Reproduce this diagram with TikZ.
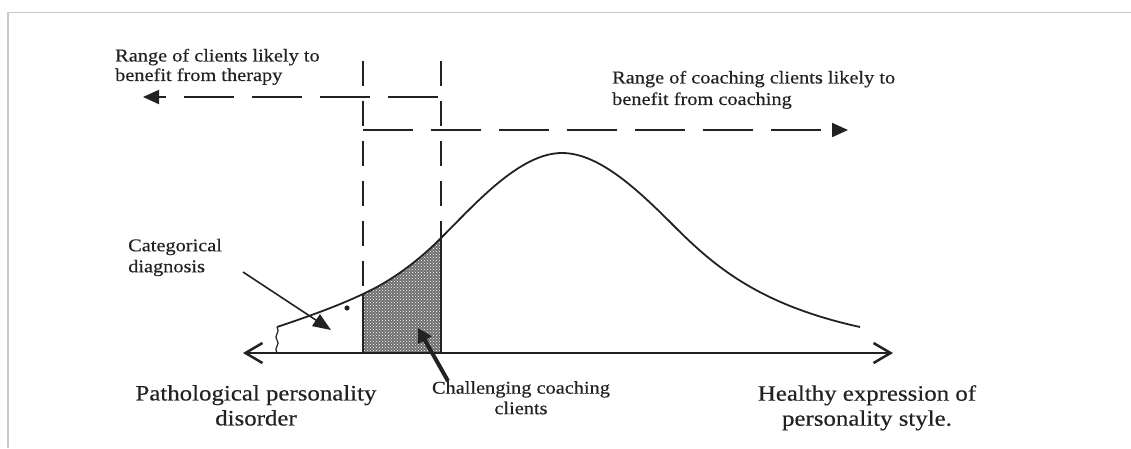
\documentclass[tikz,border=0pt]{standalone}
\usepackage{fontspec}
\setmainfont{Liberation Serif}[FakeStretch=1.13,FakeBold=0.4]
\usetikzlibrary{arrows.meta,patterns}

\definecolor{ink}{HTML}{222222}
\definecolor{framegray}{HTML}{C8C8C8}

\begin{document}
\begin{tikzpicture}[x=1pt,y=-1pt,
  small/.style={inner sep=0pt, text=ink, font=\fontsize{18}{19.5}\selectfont, align=left},
  large/.style={inner sep=0pt, text=ink, font=\fontsize{22}{25}\selectfont, align=center},
  frameline/.style={draw=framegray, line width=1.5pt},
  guide/.style={draw=ink, line width=2pt, dash pattern=on 25pt off 15pt},
  border/.style={draw=ink, line width=2.2pt},
  rangearrow/.style={draw=ink, line width=2pt, dash pattern=on 50pt off 18pt,
    -{Triangle[length=16pt,width=14pt]}},
  axisline/.style={draw=ink, line width=2.5pt,
    {Straight Barb[length=17pt,width=20pt]}-{Straight Barb[length=17pt,width=20pt]}},
  curveline/.style={draw=ink, line width=1.8pt},
  pointer/.style={draw=ink, line width=1.6pt, -{Triangle[length=18pt,width=14pt]}},
  heavypointer/.style={draw=ink, line width=4pt, -{Triangle[length=14pt,width=15pt]}}
]
\useasboundingbox (0,0) rectangle (1131,448);

% page frame
\draw[frameline] (1131,12.5) -- (8,12.5) -- (8,448);

% key points
\coordinate (axL) at (243,353);
\coordinate (axR) at (893,353);
\coordinate (lTop) at (363,61);
\coordinate (lCurve) at (363,294);
\coordinate (lFoot) at (363,353);
\coordinate (rTop) at (441,61);
\coordinate (rCurve) at (441,238);
\coordinate (rFoot) at (441,353);
\coordinate (tailStart) at (277,327);
\coordinate (tailFoot) at (277,353);
\coordinate (peak) at (562,153);
\coordinate (bend) at (675,227);
\coordinate (tailEnd) at (860,327);

% shaded band of challenging clients
\fill[ink!65] (lFoot) -- (lCurve) .. controls (389,282) and (415,264) .. (rCurve) -- (rFoot) -- cycle;
\fill[pattern=crosshatch dots, pattern color=white] (lFoot) -- (lCurve) .. controls (389,282) and (415,264) .. (rCurve) -- (rFoot) -- cycle;
\draw[border] (lCurve) -- (lFoot);
\draw[border] (rCurve) -- (rFoot);

% dashed guides above the curve
\draw[guide] (lTop) -- (lCurve);
\draw[guide] (rTop) -- (rCurve);

% range arrows
\coordinate (therapyTip) at (143,97);
\coordinate (therapyStart) at (438,97);
\coordinate (coachStart) at (363,130);
\coordinate (coachTip) at (848,130);
\draw[rangearrow] (therapyStart) -- (therapyTip);
\draw[rangearrow] (coachStart) -- (coachTip);

% distribution curve
\draw[curveline] (tailStart) .. controls (310,316) and (340,305) .. (lCurve)
  .. controls (389,282) and (415,264) .. (rCurve)
  .. controls (476,203) and (520,153) .. (peak)
  .. controls (600,153) and (640,192) .. (bend)
  .. controls (715,267) and (760,305) .. (tailEnd);

% break mark at the start of the curve
\draw[ink, line width=1.2pt] (tailStart) .. controls (281,332) and (273,336) .. (277,340)
  .. controls (281,344) and (273,348) .. (tailFoot);

% axis
\draw[axisline] (axL) -- (axR);

% dot
\fill[ink] (347,308) circle (2.6pt);

% labels
\node[small, anchor=north west] (therapy) at (115,48.6) {Range of clients likely to\\benefit from therapy};
\node[small, anchor=north west, font=\fontsize{18}{21.5}\selectfont] (coaching) at (612,70.6) {Range of coaching clients likely to\\benefit from coaching};
\node[small, anchor=north west, font=\fontsize{18}{21}\selectfont] (categorical) at (128,238.6) {Categorical\\diagnosis};
\node[small, anchor=north, align=center, font=\fontsize{18}{20.5}\selectfont] (challenging) at (521,381) {Challenging coaching\\clients};
\node[large, anchor=north] (pathological) at (256,385) {Pathological personality\\disorder};
\node[large, anchor=north] (healthy) at (867,385) {Healthy expression of\\personality style.};

% pointers
\coordinate (catStart) at (243,272);
\coordinate (catTip) at (331,330);
\draw[pointer] (catStart) -- (catTip);
\coordinate (chTail) at (448,381);
\coordinate (chTip) at (418,328);
\draw[heavypointer] (chTail) -- (chTip);
\end{tikzpicture}
\end{document}
